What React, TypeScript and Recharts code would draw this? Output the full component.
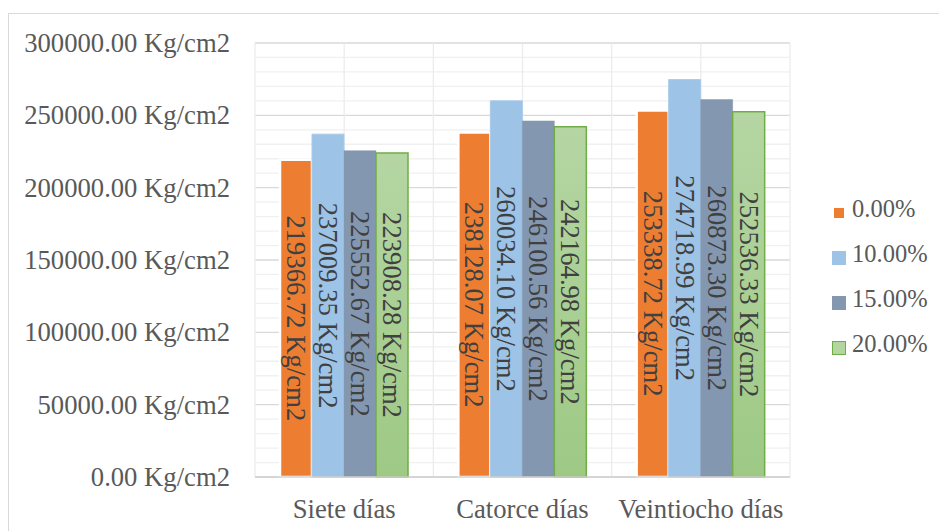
import React from 'react';
import { BarChart, Bar, XAxis, YAxis, CartesianGrid, LabelList } from 'recharts';

const categories = ['Siete días', 'Catorce días', 'Veintiocho días'];
const seriesNames = ['0.00%', '10.00%', '15.00%', '20.00%'];
const s0 = [219366.72, 238128.07, 253338.72];
const s10 = [237009.35, 260034.1, 274718.99];
const s15 = [225552.67, 246100.56, 260873.3];
const s20 = [223908.28, 242164.98, 252536.33];
const yTicks = [
  0, 10000, 20000, 30000, 40000, 50000, 60000, 70000, 80000, 90000, 100000,
  110000, 120000, 130000, 140000, 150000, 160000, 170000, 180000, 190000, 200000,
  210000, 220000, 230000, 240000, 250000, 260000, 270000, 280000, 290000, 300000,
];
const majorStep = 50000;

const keys = ['s0', 's10', 's15', 's20'];
const fills = ['#ed7d31', '#9dc3e6', '#8497b0', 'url(#greenGrad)'];
const strokes = ['#ffffff', '#a9cbea', '#8497b0', '#70ad47'];
const strokeWidths = [2.5, 1, 0.5, 1.5];
const legendFills = ['#ed7d31', '#9dc3e6', '#8497b0', '#b3d5a0'];
const legendBorders = ['#ffffff', '#9dc3e6', '#8497b0', '#70ad47'];

const data = categories.map((c, i) => ({
  name: c,
  s0: s0[i],
  s10: s10[i],
  s15: s15[i],
  s20: s20[i],
}));

const FONT = '"Liberation Serif", "Times New Roman", serif';
const fmt = (v: number) => `${v.toFixed(2)} Kg/cm2`;

const renderLabel = (props: any) => {
  const { x, y, width, height, value } = props;
  const cx = Number(x) + Number(width) / 2;
  const cy = Number(y) + Number(height) / 2;
  return (
    <text
      x={cx}
      y={cy}
      transform={`rotate(90, ${cx}, ${cy})`}
      textAnchor="middle"
      dominantBaseline="central"
      fontSize={26.67}
      fontFamily={FONT}
      fill="#404040"
    >
      {fmt(Number(value))}
    </text>
  );
};

const YTick = (props: any) => {
  const { x, y, payload } = props;
  if (payload.value % majorStep !== 0) return <g />;
  return (
    <text
      x={x}
      y={y}
      textAnchor="end"
      dominantBaseline="central"
      fontSize={26.67}
      fontFamily={FONT}
      fill="#595959"
    >
      {fmt(payload.value)}
    </text>
  );
};

const hLine = (p: any) => (
  <line
    key={p.key}
    x1={p.x1}
    y1={p.y1}
    x2={p.x2}
    y2={p.y2}
    stroke={yTicks[p.index] !== undefined && p.index % 5 === 0 ? '#d9d9d9' : '#f0f0f0'}
    strokeWidth={1.3}
  />
);

const vCoords = ({ offset }: any) => {
  const pts: number[] = [];
  const n = categories.length * 2;
  for (let k = 0; k <= n; k++) pts.push(offset.left + (k * offset.width) / n);
  return pts;
};

export default function App() {
  return (
    <div style={{ position: 'relative', width: 939, height: 523, overflow: 'hidden', fontFamily: FONT }}>
      <div
        style={{
          position: 'absolute',
          left: 0,
          top: 5,
          width: 1000,
          height: 1000,
          border: '1.5px solid #d9d9d9',
          boxSizing: 'border-box',
        }}
      />
      <div style={{ position: 'absolute', left: 0, top: 0 }}>
        <BarChart
          width={939}
          height={523}
          data={data}
          margin={{ top: 35, right: 157, bottom: 0, left: 0 }}
          barSize={32}
          barGap={0}
        >
          <defs>
            <linearGradient id="greenGrad" x1="0" y1="0" x2="0" y2="1">
              <stop offset="0%" stopColor="#b5d6a3" />
              <stop offset="100%" stopColor="#9ec985" />
            </linearGradient>
          </defs>
          <CartesianGrid
            horizontal={hLine}
            vertical={true}
            stroke="#ececec"
            strokeWidth={1.3}
            verticalCoordinatesGenerator={vCoords}
          />
          <XAxis
            dataKey="name"
            height={54}
            tickSize={0}
            tickMargin={22}
            tickLine={false}
            axisLine={{ stroke: '#d0d0d0', strokeWidth: 1.5 }}
            tick={{ fill: '#595959', fontSize: 26.67, fontFamily: FONT }}
            interval={0}
          />
          <YAxis
            width={247}
            domain={[0, 300000]}
            ticks={yTicks}
            interval={0}
            tickSize={0}
            tickMargin={25}
            tickLine={false}
            axisLine={false}
            tick={<YTick />}
          />
          {keys.map((k, i) => (
            <Bar
              key={k}
              dataKey={k}
              name={seriesNames[i]}
              fill={fills[i]}
              stroke={strokes[i]}
              strokeWidth={strokeWidths[i]}
              isAnimationActive={false}
            >
              <LabelList dataKey={k} content={renderLabel} />
            </Bar>
          ))}
        </BarChart>
      </div>
      {seriesNames.map((n, i) => (
        <div
          key={n}
          style={{
            position: 'absolute',
            left: 824,
            top: 186 + i * 45,
            height: 30,
            display: 'flex',
            alignItems: 'center',
            whiteSpace: 'nowrap',
          }}
        >
          <div
            style={{
              width: 14,
              height: 14,
              background: legendFills[i],
              border: `${i === 0 ? 2.5 : 1}px solid ${legendBorders[i]}`,
              boxSizing: 'border-box',
              marginRight: 6,
              marginTop: 8,
            }}
          />
          <span style={{ fontSize: 24.5, color: '#595959', fontFamily: FONT }}>{n}</span>
        </div>
      ))}
    </div>
  );
}
